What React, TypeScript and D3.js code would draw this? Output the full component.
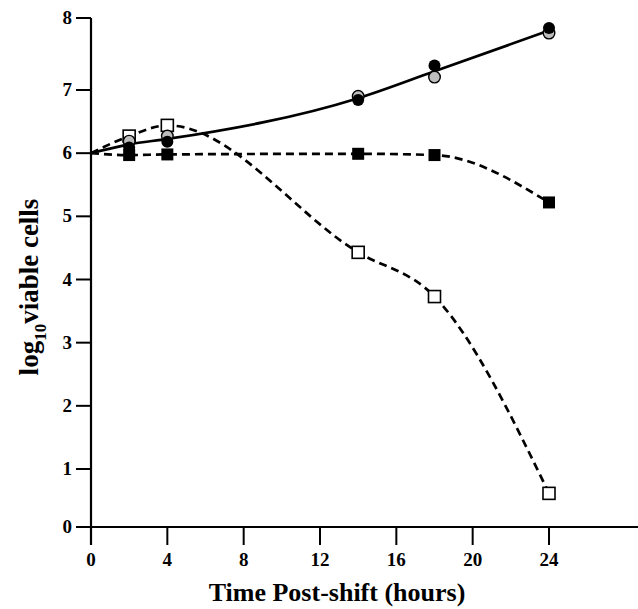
import React, { useEffect, useRef } from "react";
import * as d3 from "d3";

// hours post-shift
const hours = [0, 2, 4, 14, 18, 24];
// log10 viable cells, one array per strain
const filledCircles = [6.0, 6.09, 6.18, 6.84, 7.34, 7.86];
const grayCircles = [6.0, 6.19, 6.27, 6.9, 7.18, 7.79];
const filledSquares = [6.0, 5.97, 5.98, 5.99, 5.97, 5.22];
const openSquares = [6.0, 6.27, 6.44, 4.43, 3.73, 0.58];

const xTicks = [0, 4, 8, 12, 16, 20, 24];
const yTicks = [0, 1, 2, 3, 4, 5, 6, 7, 8];

const W = 638;
const H = 609;

export default function App() {
  const svgRef = useRef<SVGSVGElement>(null);

  useEffect(() => {
    const svg = d3.select(svgRef.current);
    svg.selectAll("*").remove();

    const x = d3.scaleLinear().domain([0, 24]).range([91, 549]);
    // the scanned axis is slightly uneven at the ends
    const y = d3.scaleLinear().domain([0, 1, 7, 8]).range([527, 469, 90, 18]);

    const font = "'Liberation Serif', 'Times New Roman', serif";
    const g = svg.append("g");

    // axes
    g.append("line")
      .attr("x1", x(0)).attr("x2", x(0))
      .attr("y1", y(8)).attr("y2", y(0) + 18)
      .attr("stroke", "#000").attr("stroke-width", 2.2);
    g.append("line")
      .attr("x1", x(0) - 15).attr("x2", W)
      .attr("y1", y(0)).attr("y2", y(0))
      .attr("stroke", "#000").attr("stroke-width", 2.2);

    yTicks.forEach((t) => {
      g.append("line")
        .attr("x1", x(0) - 15).attr("x2", x(0))
        .attr("y1", y(t)).attr("y2", y(t))
        .attr("stroke", "#000").attr("stroke-width", 2);
      g.append("text")
        .attr("x", x(0) - 19).attr("y", y(t) + 6)
        .attr("text-anchor", "end")
        .attr("font-family", font).attr("font-weight", "bold")
        .attr("font-size", 19)
        .text(t);
    });

    xTicks.forEach((t) => {
      g.append("line")
        .attr("x1", x(t)).attr("x2", x(t))
        .attr("y1", y(0)).attr("y2", y(0) + 18)
        .attr("stroke", "#000").attr("stroke-width", 2);
      g.append("text")
        .attr("x", x(t)).attr("y", y(0) + 39)
        .attr("text-anchor", "middle")
        .attr("font-family", font).attr("font-weight", "bold")
        .attr("font-size", 19)
        .text(t);
    });

    g.append("text")
      .attr("x", 337).attr("y", 601)
      .attr("text-anchor", "middle")
      .attr("font-family", font).attr("font-weight", "bold")
      .attr("font-size", 26)
      .text("Time Post-shift (hours)");

    const yt = g.append("text")
      .attr("transform", `translate(38, 287) rotate(-90)`)
      .attr("text-anchor", "middle")
      .attr("font-family", font).attr("font-weight", "bold")
      .attr("font-size", 27);
    yt.append("tspan").text("log");
    yt.append("tspan").attr("font-size", 17).attr("dy", 8).text("10");
    yt.append("tspan").attr("dy", -8).text("viable cells");

    // curves
    const meanCircles = filledCircles.map((v, i) => (v + grayCircles[i]) / 2);
    const pts = (vals: number[]) => hours.map((h, i) => [h, vals[i]] as [number, number]);

    const smooth = d3.line<[number, number]>()
      .x((d) => x(d[0])).y((d) => y(d[1]))
      .curve(d3.curveMonotoneX);

    g.append("path")
      .attr("d", smooth(pts(openSquares)))
      .attr("fill", "none").attr("stroke", "#000")
      .attr("stroke-width", 2.7).attr("stroke-dasharray", "8,5");
    g.append("path")
      .attr("d", smooth(pts(filledSquares)))
      .attr("fill", "none").attr("stroke", "#000")
      .attr("stroke-width", 2.7).attr("stroke-dasharray", "8,5");
    g.append("path")
      .attr("d", smooth(pts(meanCircles)))
      .attr("fill", "none").attr("stroke", "#000")
      .attr("stroke-width", 2.7);

    const s = 12;
    g.selectAll(".osq").data(pts(openSquares).slice(1)).join("rect")
      .attr("x", (d) => x(d[0]) - s / 2).attr("y", (d) => y(d[1]) - s / 2)
      .attr("width", s).attr("height", s)
      .attr("fill", "#fff").attr("stroke", "#000").attr("stroke-width", 1.6);

    g.selectAll(".gc").data(pts(grayCircles).slice(1)).join("circle")
      .attr("cx", (d) => x(d[0])).attr("cy", (d) => y(d[1]))
      .attr("r", 5.8)
      .attr("fill", "#bdbdbd").attr("stroke", "#000").attr("stroke-width", 1.4);

    g.selectAll(".fc").data(pts(filledCircles).slice(1)).join("circle")
      .attr("cx", (d) => x(d[0])).attr("cy", (d) => y(d[1]))
      .attr("r", 6)
      .attr("fill", "#000");

    g.selectAll(".fsq").data(pts(filledSquares).slice(1)).join("rect")
      .attr("x", (d) => x(d[0]) - s / 2).attr("y", (d) => y(d[1]) - s / 2)
      .attr("width", s).attr("height", s)
      .attr("fill", "#000");
  }, []);

  return (
    <svg
      ref={svgRef}
      width={W}
      height={H}
      style={{ position: "absolute", left: 0, top: 0, background: "#fff" }}
    />
  );
}
